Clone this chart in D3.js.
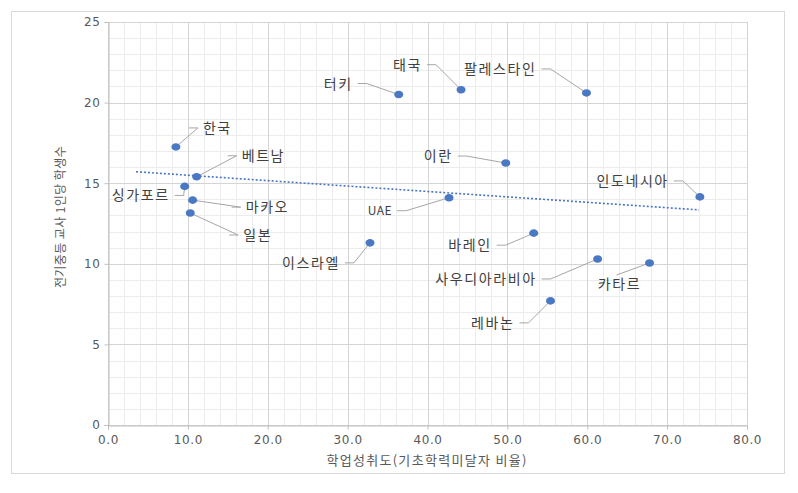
<!DOCTYPE html>
<html>
<head>
<meta charset="utf-8">
<script src="https://cdn.jsdelivr.net/npm/d3@7"></script>
<style>
  body { margin: 0; background: #fff; }
  svg text { font-family: "Noto Sans CJK KR", "Noto Sans", sans-serif; }
</style>
</head>
<body>
<div class="chart"></div>
<script>
;(function(window, document, undefined) {

	'use strict';

	// data
	var countries = ['한국', '베트남', '싱가포르', '마카오', '일본', '터키', '태국', '팔레스타인',
		'이란', 'UAE', '인도네시아', '이스라엘', '바레인', '사우디아라비아', '카타르', '레바논'];
	var achievement = [8.5, 11.1, 9.6, 10.6, 10.3, 36.4, 44.2, 59.9, 49.8, 42.7, 74.1, 32.8, 53.3, 61.3, 67.8, 55.4];
	var studentsPerTeacher = [17.25, 15.4, 14.8, 13.95, 13.15, 20.5, 20.8, 20.6, 16.25, 14.1, 14.15, 11.3, 11.9, 10.3, 10.05, 7.7];
	var xTicks = [0, 10, 20, 30, 40, 50, 60, 70, 80];
	var yTicks = [0, 5, 10, 15, 20, 25];
	var trendRange = [3.5, 74];
	var xTitle = '학업성취도(기초학력미달자 비율)';
	var yTitle = '전기중등 교사 1인당 학생수';

	// label placement (pixel offsets from the dot)
	var labelPos = [
		{dx: 27, dy: -19, side: 'start'},
		{dx: 45, dy: -21, side: 'start'},
		{dx: -15, dy: 9, side: 'end'},
		{dx: 53, dy: 7, side: 'start'},
		{dx: 53, dy: 22, side: 'start'},
		{dx: -46, dy: -11, side: 'end'},
		{dx: -39, dy: -25, side: 'end'},
		{dx: -50, dy: -24, side: 'end'},
		{dx: -53, dy: -7, side: 'end'},
		{dx: -57, dy: 13, side: 'end'},
		{dx: -31, dy: -16, side: 'end'},
		{dx: -30, dy: 20, side: 'end'},
		{dx: -42, dy: 12, side: 'end'},
		{dx: -61, dy: 20, side: 'end'},
		{dx: -30, dy: 21, side: 'middle'},
		{dx: -36, dy: 22, side: 'end'}
	];

	function init() {
		var width = 798, height = 493;
		var svg = d3.select('.chart').append('svg')
			.attr('width', width)
			.attr('height', height);

		svg.append('rect')
			.attr('x', 11.5).attr('y', 11.5)
			.attr('width', 773).attr('height', 462)
			.attr('fill', '#fff')
			.attr('stroke', '#d9d9d9');

		var x = d3.scaleLinear().domain([0, 80]).range([108, 747]);
		var y = d3.scaleLinear().domain([0, 25]).range([425, 22]);

		var g = svg.append('g');

		// minor grid
		g.selectAll('.vminor').data(d3.range(0, 81, 2))
			.enter().append('line')
			.attr('x1', function(d) { return Math.round(x(d)) + 0.5; })
			.attr('x2', function(d) { return Math.round(x(d)) + 0.5; })
			.attr('y1', y(25)).attr('y2', y(0))
			.attr('stroke', '#ececec');
		g.selectAll('.hminor').data(d3.range(0, 26, 1))
			.enter().append('line')
			.attr('y1', function(d) { return Math.round(y(d)) + 0.5; })
			.attr('y2', function(d) { return Math.round(y(d)) + 0.5; })
			.attr('x1', x(0)).attr('x2', x(80))
			.attr('stroke', '#ececec');

		// major grid
		g.selectAll('.vmajor').data(xTicks)
			.enter().append('line')
			.attr('x1', function(d) { return Math.round(x(d)) + 0.5; })
			.attr('x2', function(d) { return Math.round(x(d)) + 0.5; })
			.attr('y1', y(25)).attr('y2', y(0))
			.attr('stroke', '#d4d4d4');
		g.selectAll('.hmajor').data(yTicks)
			.enter().append('line')
			.attr('y1', function(d) { return Math.round(y(d)) + 0.5; })
			.attr('y2', function(d) { return Math.round(y(d)) + 0.5; })
			.attr('x1', x(0)).attr('x2', x(80))
			.attr('stroke', '#d4d4d4');

		// axes
		var xAxis = d3.axisBottom(x).tickValues(xTicks).tickSize(4).tickFormat(d3.format('.1f'));
		var yAxis = d3.axisLeft(y).tickValues(yTicks).tickSize(4).tickFormat(d3.format('d'));
		var gx = svg.append('g').attr('transform', 'translate(0,' + (Math.round(y(0)) + 0.5) + ')').call(xAxis);
		var gy = svg.append('g').attr('transform', 'translate(' + (Math.round(x(0)) + 0.5) + ',0)').call(yAxis);
		[gx, gy].forEach(function(a) {
			a.select('.domain').attr('stroke', '#bfbfbf');
			a.selectAll('.tick line').attr('stroke', '#bfbfbf');
			a.selectAll('.tick text')
				.attr('fill', '#595959')
				.style('font-family', '"DejaVu Sans", sans-serif')
				.style('font-size', '12px')
				.style('letter-spacing', '0.6px');
		});
		gx.selectAll('.tick text').attr('dy', '0.95em');
		gy.selectAll('.tick text').attr('x', -8);

		// titles
		svg.append('text')
			.attr('x', 427).attr('y', 465)
			.attr('text-anchor', 'middle')
			.attr('fill', '#595959')
			.style('font-size', '13px')
			.style('letter-spacing', '1.3px')
			.text(xTitle);
		svg.append('text')
			.attr('transform', 'translate(65,217) rotate(-90)')
			.attr('text-anchor', 'middle')
			.attr('fill', '#595959')
			.style('font-size', '12px')
			.style('letter-spacing', '0.4px')
			.text(yTitle);

		// linear trend line from the points
		var mx = d3.mean(achievement), my = d3.mean(studentsPerTeacher);
		var sxy = d3.sum(achievement, function(v, i) { return (v - mx) * (studentsPerTeacher[i] - my); });
		var sxx = d3.sum(achievement, function(v) { return (v - mx) * (v - mx); });
		var slope = sxy / sxx, icpt = my - slope * mx;
		svg.append('line')
			.attr('x1', x(trendRange[0])).attr('y1', y(icpt + slope * trendRange[0]))
			.attr('x2', x(trendRange[1])).attr('y2', y(icpt + slope * trendRange[1]))
			.attr('stroke', '#4a76c0')
			.attr('stroke-width', 1.6)
			.attr('stroke-dasharray', '2,2');

		var pts = countries.map(function(c, i) {
			return { name: c, x: achievement[i], y: studentsPerTeacher[i], pos: labelPos[i] };
		});

		// leader lines
		svg.selectAll('.leader').data(pts)
			.enter().append('polyline')
			.attr('fill', 'none')
			.attr('stroke', '#a6a6a6')
			.attr('points', function(d) {
				var px = x(d.x), py = y(d.y);
				var tx = px + d.pos.dx, ty = py + d.pos.dy;
				if (d.pos.side === 'end') {
					return [[tx + 5, ty], [tx + 14, ty], [px, py]].join(' ');
				} else if (d.pos.side === 'start') {
					return [[tx - 14, ty], [tx - 5, ty], [px, py]].join(' ');
				}
				return [[tx - 3, ty - 9], [px, py]].join(' ');
			});

		// labels
		svg.selectAll('.lbl').data(pts)
			.enter().append('text')
			.attr('x', function(d) { return x(d.x) + d.pos.dx; })
			.attr('y', function(d) { return y(d.y) + d.pos.dy; })
			.attr('dy', '0.36em')
			.attr('text-anchor', function(d) { return d.pos.side; })
			.attr('fill', '#404040')
			.style('font-size', function(d) { return d.name === 'UAE' ? '12px' : '14px'; })
			.style('letter-spacing', function(d) { return d.name === 'UAE' ? '0.5px' : '1.6px'; })
			.text(function(d) { return d.name; });

		// dots
		svg.selectAll('.dot').data(pts)
			.enter().append('ellipse')
			.attr('cx', function(d) { return x(d.x); })
			.attr('cy', function(d) { return y(d.y); })
			.attr('rx', 4.5).attr('ry', 3.8)
			.attr('fill', '#4a78c2');
	}

	init();

})(window, document);
</script>
</body>
</html>
